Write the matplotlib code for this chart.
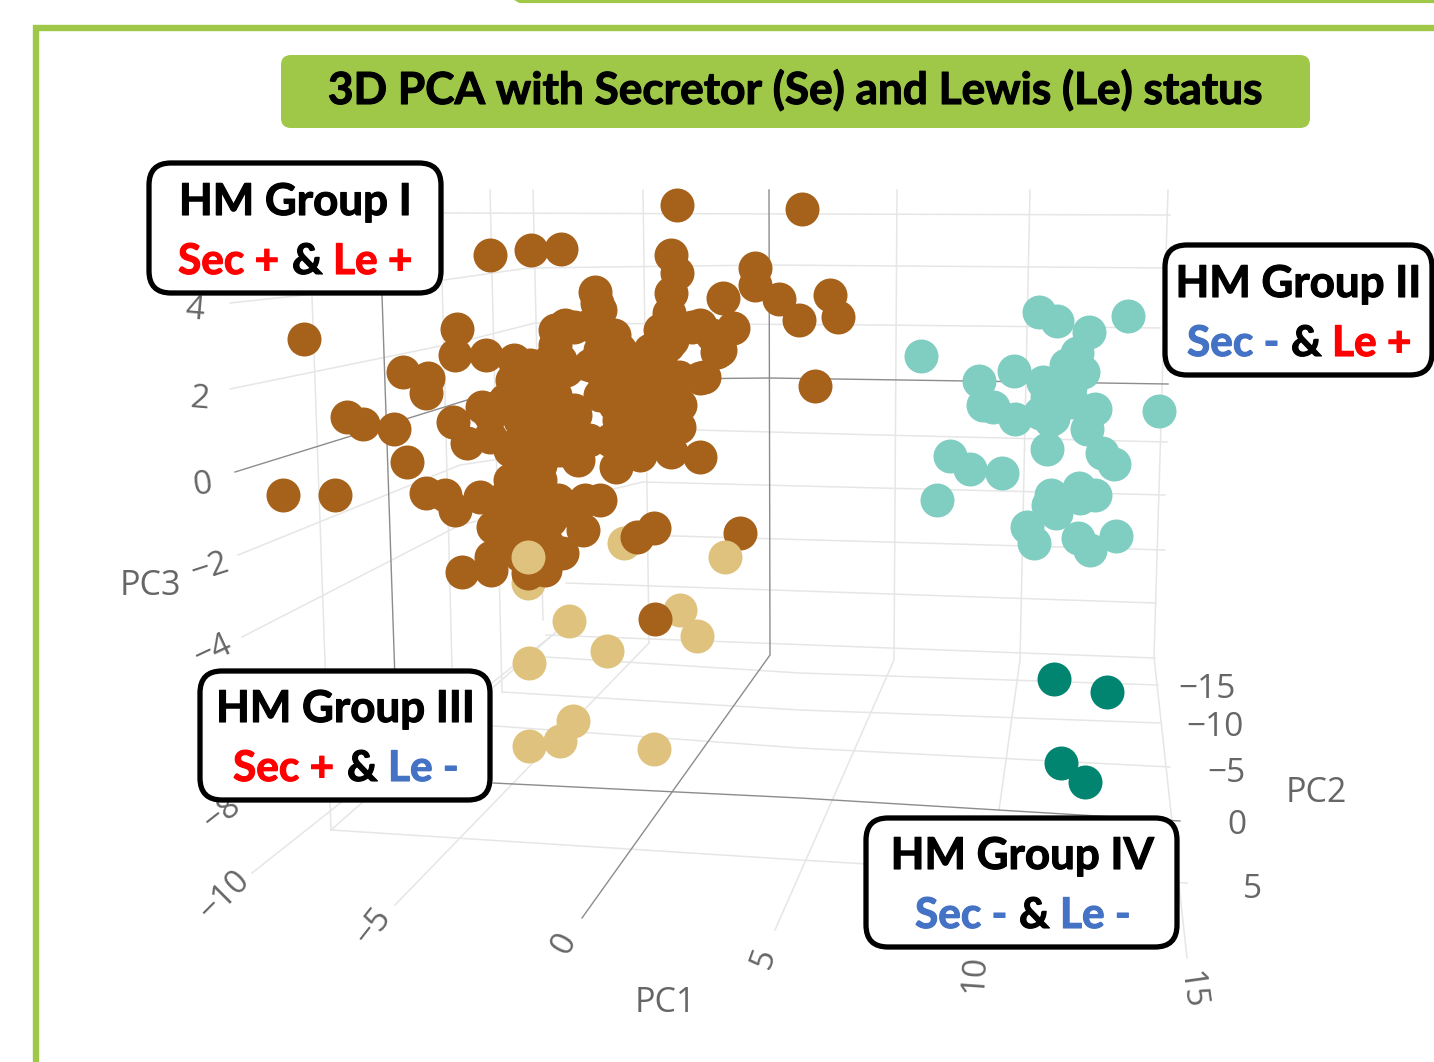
import matplotlib
matplotlib.use("Agg")
import matplotlib.pyplot as plt
import matplotlib.patheffects as pe
from matplotlib.patches import FancyBboxPatch

W, H = 1434, 1062
BROWN, TAN, TEAL, DARK = "#A6611A", "#DFC27D", "#80CDC1", "#018571"
GREEN = "#9FC748"
RED, BLUE = "#FF0000", "#4472C4"
TICK = "#666666"

# Point positions (picture coordinates of the projected 3D scatter)
group3_back_x = [528, 624, 569, 680, 697, 607, 529, 573, 560, 529, 654]
group3_back_y = [583, 543, 621, 610, 636, 651, 663, 721, 741, 746, 749]
group1_x = [677, 802, 490, 531, 561, 671, 677, 304, 755, 755, 779, 799, 830, 838, 723, 595, 597, 457, 455, 486,
            514, 403, 428, 426, 347, 363, 394, 407, 283, 335, 426, 445, 455, 700, 815, 654, 637, 740, 462, 491,
            491, 655, 555, 574, 614, 671, 669, 692, 733, 717, 704, 679, 650, 643, 512, 543, 566, 482, 453, 467,
            490, 528, 574, 578, 616, 589, 627, 643, 671, 679, 669, 604, 627, 658, 520, 524, 505, 480, 535, 600,
            585, 558, 493, 520, 543, 583, 562, 545, 528, 535, 509, 550, 520, 530, 620, 640, 545, 600, 655, 520,
            535, 555, 505, 490, 515, 525, 540, 556, 615, 630, 620, 640, 655, 650, 670, 660, 610, 590, 600, 620,
            672, 700, 712, 720, 700, 555, 560, 550, 565, 590, 600, 600, 530, 525, 540, 555, 545, 530, 510, 560,
            575, 620, 635, 640, 660, 610, 560, 570, 575, 619, 610, 680, 675, 525, 540, 515, 530, 545, 550, 520,
            535, 530, 548, 510, 520, 550, 565, 500, 525, 540, 510, 540, 660, 668]
group1_y = [205, 209, 255, 250, 249, 255, 273, 339, 268, 285, 299, 320, 295, 317, 298, 292, 303, 329, 355, 355,
            360, 372, 378, 393, 417, 424, 429, 462, 495, 495, 493, 495, 510, 457, 386, 528, 537, 533, 572, 557,
            570, 619, 330, 327, 335, 293, 313, 327, 328, 352, 377, 377, 350, 370, 380, 380, 370, 407, 422, 443,
            437, 413, 410, 460, 467, 440, 427, 430, 452, 427, 403, 377, 393, 387, 440, 470, 497, 497, 480, 500,
            500, 500, 527, 513, 523, 530, 553, 570, 573, 547, 533, 440, 420, 450, 410, 410, 395, 395, 410, 365,
            395, 395, 400, 415, 380, 400, 405, 420, 405, 410, 380, 385, 400, 370, 385, 360, 360, 365, 350, 350,
            340, 325, 335, 350, 378, 345, 360, 360, 325, 325, 330, 310, 365, 425, 430, 440, 455, 455, 450, 450,
            440, 445, 445, 455, 440, 440, 420, 425, 415, 420, 395, 405, 415, 490, 490, 505, 505, 510, 520, 525,
            530, 545, 545, 515, 555, 555, 510, 515, 470, 465, 480, 480, 330, 345]
group3_front_x = [528, 725]
group3_front_y = [557, 557]
group2_x = [1039, 1057, 1089, 1128, 921, 979, 1014, 983, 993, 1015, 1077, 1083, 1043, 1060, 1070, 1053, 1057, 1095,
            1159, 1087, 1047, 1102, 1114, 950, 970, 1002, 937, 1051, 1048, 1056, 1079, 1080, 1095, 1027, 1034, 1078,
            1090, 1116, 1047, 1040, 1066, 1050, 1072]
group2_y = [312, 321, 332, 316, 356, 381, 371, 405, 407, 419, 353, 372, 382, 383, 387, 418, 400, 409,
            411, 429, 449, 453, 464, 456, 469, 473, 500, 495, 505, 513, 488, 498, 495, 527, 543, 538,
            550, 536, 397, 413, 365, 420, 402]
group4_x = [1054, 1107, 1061, 1085]
group4_y = [679, 692, 763, 782]

# Tick labels: text, x, y, rotation
pc1_ticks = [("\u221210", 225, 896, 45), ("\u22125", 373, 927, 52), ("0", 564, 944, 62),
             ("5", 764, 958, 70), ("10", 975, 973, 86), ("15", 1191, 991, -82)]
pc2_ticks = [("\u221215", 1207, 690, 0), ("\u221210", 1215, 728, 0), ("\u22125", 1226, 773, 0),
             ("0", 1237, 826, 0), ("5", 1252, 890, 0)]
pc3_ticks = [("4", 195, 310, -5), ("2", 200, 399, -5), ("0", 203, 485, 8), ("\u22122", 210, 568, 18),
             ("\u22124", 213, 651, 25), ("\u22128", 222, 814, 38)]

# Faint 3D grid as it appears in the picture
grid_light = [
    [(444, 213), (1170, 215)],
    [(230, 303), (444, 280), (528, 268), (769, 265), (1170, 268)],
    [(230, 389), (460, 342), (535, 323), (880, 325), (1160, 328)],
    [(238, 555), (460, 465), (696, 430), (880, 435), (1167, 442)],
    [(242, 637), (460, 525), (643, 482), (880, 488), (1165, 495)],
    [(640, 535), (1165, 550)],
    [(566, 583), (1156, 603)],
    [(546, 635), (1155, 658)],
    [(546, 657), (800, 673), (1158, 685)],
    [(502, 692), (800, 710), (1160, 723)],
    [(440, 722), (800, 748), (1170, 767)],
    [(331, 830), (800, 860), (1187, 883)],
    [(312, 297), (331, 830)],
    [(442, 278), (452, 667)],
    [(490, 190), (502, 692)],
    [(533, 190), (543, 620)],
    [(643, 190), (649, 643)],
    [(897, 190), (894, 660), (775, 930)],
    [(1030, 190), (1020, 660), (999, 810)],
    [(1168, 190), (1154, 657), (1187, 958)],
    [(649, 643), (395, 905)],
    [(555, 633), (252, 873)],
    [(331, 830), (555, 633)],
]
grid_dark = [
    [(235, 472), (493, 392), (560, 380), (769, 378), (1168, 384)],
    [(382, 295), (395, 680)],
    [(769, 190), (770, 655), (582, 918)],
    [(493, 783), (800, 798), (1180, 821)],
]

fig = plt.figure(figsize=(W / 100, H / 100), dpi=100, facecolor="white")
ax = fig.add_axes([0, 0, 1, 1])
ax.set_xlim(0, W)
ax.set_ylim(H, 0)
ax.axis("off")

for line in grid_light:
    ax.plot(*zip(*line), color="#e6e6e6", lw=1.1, zorder=1)
for line in grid_dark:
    ax.plot(*zip(*line), color="#8c8c8c", lw=1.0, zorder=1.1)

S = (34 * 0.72) ** 2
ax.scatter(group3_back_x, group3_back_y, s=S, c=TAN, lw=0, zorder=2)
ax.scatter(group1_x, group1_y, s=S, c=BROWN, lw=0, zorder=3)
ax.scatter(group3_front_x, group3_front_y, s=S, c=TAN, lw=0, zorder=4)
ax.scatter(group2_x, group2_y, s=S, c=TEAL, lw=0, zorder=3)
ax.scatter(group4_x, group4_y, s=S, c=DARK, lw=0, zorder=3)

for label, x, y, r in pc1_ticks + pc2_ticks + pc3_ticks:
    ax.text(x, y, label, color=TICK, fontsize=24, family="Open Sans", rotation=r,
            ha="center", va="center", rotation_mode="anchor", zorder=5)
for label, x, y in [("PC1", 665, 1003), ("PC2", 1316, 793), ("PC3", 150, 586)]:
    ax.text(x, y, label, color=TICK, fontsize=24.5, family="Open Sans", ha="center", va="center", zorder=5)

# Frame
ax.plot([36, 36, W], [H, 28, 28], color=GREEN, lw=4.6, solid_joinstyle="miter", zorder=6)
ax.plot([508, 520, W], [-6, 1, 1], color=GREEN, lw=3, zorder=6)

BOLD = [pe.withStroke(linewidth=0.8, foreground="black")]


def heavy(color):
    return [pe.withStroke(linewidth=0.8, foreground=color)]


# Title band
ax.add_patch(FancyBboxPatch((291, 65), 1009, 53, boxstyle="round,pad=10,rounding_size=10", lw=0, fc=GREEN, zorder=6))
ax.text(795, 104, "3D PCA with Secretor (Se) and Lewis (Le) status", fontsize=31.8, family="Lato",
        weight="bold", color="black", ha="center", va="baseline", zorder=7, path_effects=BOLD)

# Group call-outs: box corners, title and the coloured pieces of the second line
boxes = [
    ((149, 163, 441, 293), "HM Group I", 295, 215, 274,
     [("Sec +", 178, RED), ("&", 292, "black"), ("Le +", 333, RED)]),
    ((1165, 245, 1432, 375), "HM Group II", 1298, 297, 356,
     [("Sec -", 1187, BLUE), ("&", 1291, "black"), ("Le +", 1332, RED)]),
    ((200, 671, 490, 800), "HM Group III", 345, 722, 781,
     [("Sec +", 233, RED), ("&", 347, "black"), ("Le -", 388, BLUE)]),
    ((866, 818, 1177, 947), "HM Group IV", 1022, 869, 928,
     [("Sec -", 915, BLUE), ("&", 1019, "black"), ("Le -", 1060, BLUE)]),
]
for (x0, y0, x1, y1), head, cx, by1, by2, parts in boxes:
    ax.add_patch(FancyBboxPatch((x0 + 22, y0 + 22), x1 - x0 - 44, y1 - y0 - 44,
                                boxstyle="round,pad=22,rounding_size=22",
                                lw=3.8, ec="black", fc="white", zorder=8))
    ax.text(cx, by1, head, fontsize=31.6, family="Lato", weight="bold", color="black",
            ha="center", va="baseline", zorder=9, path_effects=BOLD)
    for label, x, color in parts:
        ax.text(x, by2, label, fontsize=30.5, family="Lato", weight="bold", color=color,
                ha="left", va="baseline", zorder=9, path_effects=heavy(color))

fig.savefig("out.png", dpi=100)
